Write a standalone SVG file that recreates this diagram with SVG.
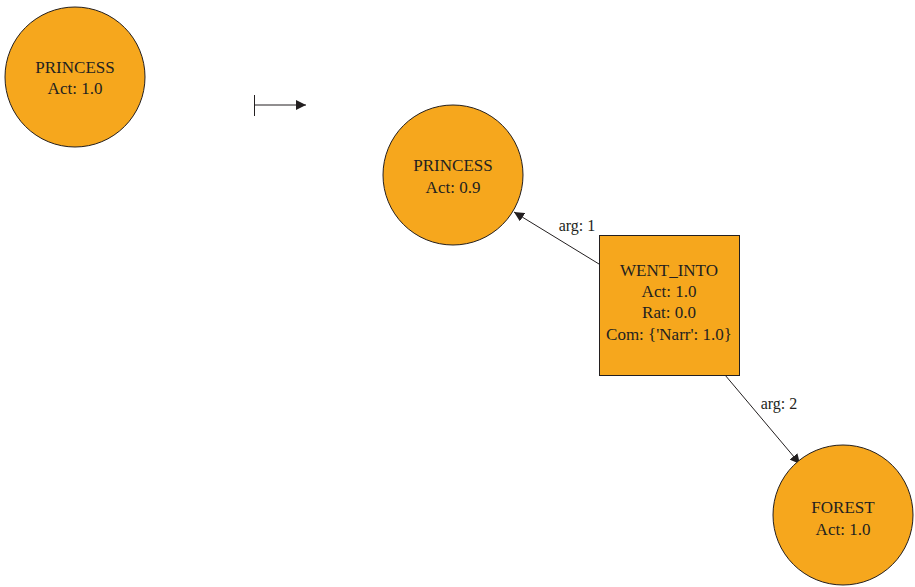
<svg xmlns="http://www.w3.org/2000/svg" width="915" height="587" viewBox="0 0 915 587">
<defs>
<marker id="ah" viewBox="0 0 10 10" refX="10" refY="5" markerWidth="10" markerHeight="10" markerUnits="userSpaceOnUse" orient="auto">
<path d="M0,0 L10,5 L0,10 z" fill="#231f20"/>
</marker>
<style>
.node{fill:#f6a71d;stroke:#231f20;stroke-width:1}
.t{font-family:"Liberation Serif","Times New Roman",serif;font-size:17px;fill:#231f20;text-anchor:middle}
.lbl{font-family:"Liberation Serif","Times New Roman",serif;font-size:16px;fill:#231f20;text-anchor:middle}
.edge{stroke:#231f20;stroke-width:1;fill:none}
</style>
</defs>
<rect width="915" height="587" fill="#ffffff"/>
<g id="legend">
<line class="edge" x1="254.5" y1="95" x2="254.5" y2="116"/>
<line class="edge" x1="254.5" y1="105" x2="306" y2="105" marker-end="url(#ah)"/>
</g>
<g id="connectors">
<line class="edge" x1="599" y1="264" x2="514" y2="212" marker-end="url(#ah)"/>
<text class="lbl" x="577" y="231">arg: 1</text>
<line class="edge" x1="725" y1="375" x2="800" y2="464" marker-end="url(#ah)"/>
<text class="lbl" x="779" y="409">arg: 2</text>
</g>
<g id="princess1">
<circle class="node" cx="75" cy="77" r="70"/>
<text class="t" x="75" y="73">PRINCESS</text>
<text class="t" x="75" y="94">Act: 1.0</text>
</g>
<g id="princess2">
<circle class="node" cx="453" cy="175" r="70"/>
<text class="t" x="453" y="171">PRINCESS</text>
<text class="t" x="453" y="193">Act: 0.9</text>
</g>
<g id="went_into">
<rect class="node" x="599.5" y="235.5" width="140" height="140"/>
<text class="t" x="669" y="276">WENT_INTO</text>
<text class="t" x="669" y="297">Act: 1.0</text>
<text class="t" x="669" y="318">Rat: 0.0</text>
<text class="t" x="669" y="340">Com: {'Narr': 1.0}</text>
</g>
<g id="forest">
<circle class="node" cx="843" cy="515" r="70"/>
<text class="t" x="843" y="513">FOREST</text>
<text class="t" x="843" y="535">Act: 1.0</text>
</g>
</svg>
